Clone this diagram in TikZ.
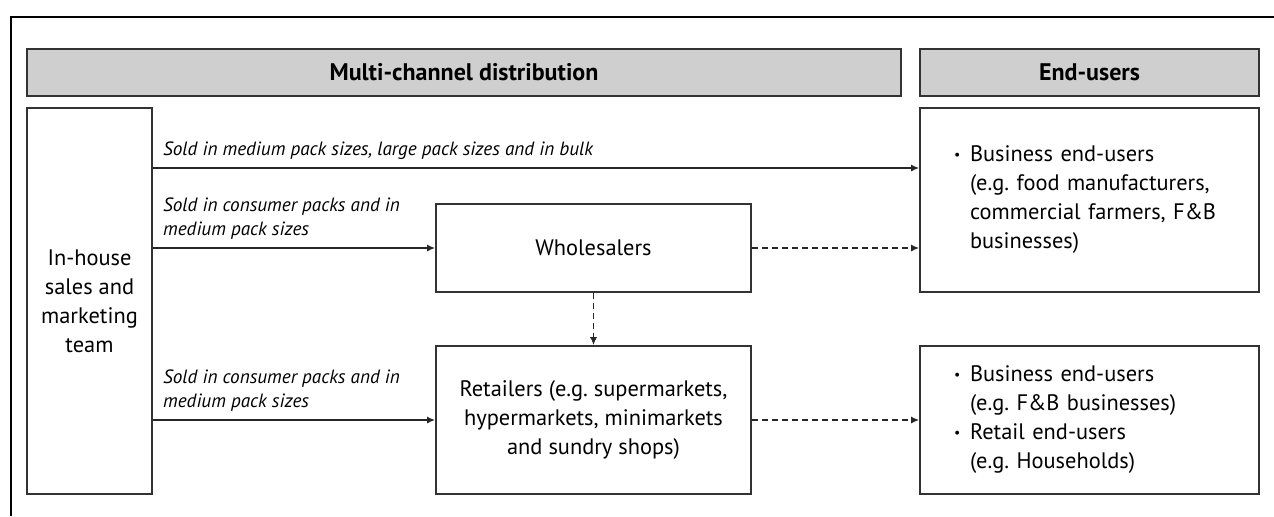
\documentclass[tikz,border=0pt]{standalone}
\usepackage{fontspec}
\setmainfont{PT Sans}
\usetikzlibrary{arrows.meta}
\definecolor{headgray}{HTML}{CFCFCF}
\definecolor{edgegray}{HTML}{333333}
\newcommand{\bul}{\makebox[8pt][l]{\raisebox{1pt}{\fontsize{7}{7}\selectfont\textbullet}}}
\newcommand{\ind}{\hspace*{8pt}}
\frenchspacing

\begin{document}
\begin{tikzpicture}[x=0.5pt,y=-0.5pt,>={Latex[length=4pt,width=3.5pt]},
	box/.style={draw=edgegray,line width=0.8pt,align=center,inner sep=0pt,font=\fontsize{11.2}{14.5}\selectfont},
	head/.style={box,fill=headgray,minimum height=23.5pt,font=\fontsize{12}{14}\selectfont\bfseries},
	list/.style={box,align=left,inner xsep=17pt,text width=135.5pt},
	lbl/.style={anchor=south west,align=left,inner sep=0pt,font=\fontsize{9.6}{12}\selectfont\itshape},
	flow/.style={->,line width=0.8pt,draw=black!85},
	tie/.style={flow,dash pattern=on 3pt off 2pt}]
	\useasboundingbox (0,0) rectangle (1274,516);
	\draw [line width=0.8pt] (11,516) -- (11,17) -- (1274,17);

	\node (mcd)    at (464,72.5)    [head, minimum width=437pt]   {Multi-channel distribution};
	\node (eu)     at (1089.5,72.5) [head, minimum width=169.5pt] {End-users};

	\node (team)   at (89.5,301)    [box, minimum width=62.5pt, minimum height=193pt] {In-house\\sales and\\marketing\\team};
	\node (whole)  at (593.5,248)   [box, minimum width=157.5pt, minimum height=44pt] {Wholesalers};
	\node (retail) at (593.5,420)   [box, minimum width=157.5pt, minimum height=74pt] {Retailers (e.g. supermarkets,\\hypermarkets, minimarkets\\and sundry shops)};
	\node (biz)    at (1089.5,200)  [list, minimum height=92pt] {\bul Business end-users\\\ind(e.g. food manufacturers,\\\ind commercial farmers, F\&B\\\ind businesses)};
	\node (mix)    at (1089.5,420)  [list, minimum height=74pt] {\bul Business end-users\\\ind(e.g. F\&B businesses)\\\bul Retail end-users\\\ind(e.g. Households)};

	\coordinate (bulk) at (0,168);
	\draw [flow] (team.east |- bulk) to (biz.west |- bulk);
	\draw [flow] (team.east |- whole.west) to (whole.west);
	\draw [flow] (team.east |- retail.west) to (retail.west);
	\draw [tie]  (whole.east) to (biz.west |- whole.east);
	\draw [tie]  (whole.south) to (retail.north);
	\draw [tie]  (retail.east) to (mix.west);

	\path (team.east |- bulk) ++(10,-8) node (sold1) [lbl] {Sold in medium pack sizes, large pack sizes and in bulk};
	\path (team.east |- whole.west) ++(10,-8) node (sold2) [lbl] {Sold in consumer packs and in\\medium pack sizes};
	\path (team.east |- retail.west) ++(10,-8) node (sold3) [lbl] {Sold in consumer packs and in\\medium pack sizes};
\end{tikzpicture}
\end{document}
